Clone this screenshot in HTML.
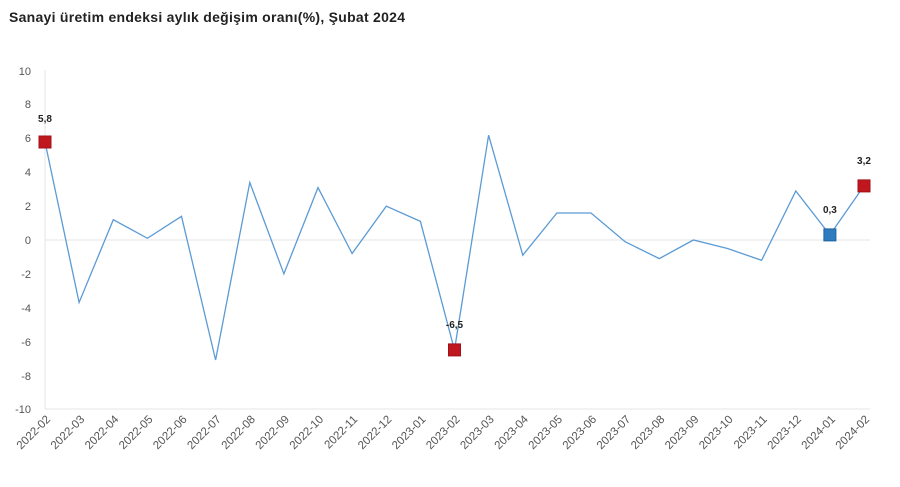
<!DOCTYPE html>
<html><head><meta charset="utf-8"><style>
html,body{margin:0;padding:0;background:#fff;width:900px;height:487px;overflow:hidden}
svg{font-family:"Liberation Sans","DejaVu Sans",sans-serif}
</style></head><body>
<svg width="900" height="487" viewBox="0 0 900 487">
<text x="9" y="22" font-size="14" font-weight="bold" fill="#222" textLength="396">Sanayi üretim endeksi aylık değişim oranı(%), Şubat 2024</text>
<line x1="45" y1="70" x2="45" y2="409" stroke="#e6e6e6"/>
<line x1="45" y1="240" x2="870" y2="240" stroke="#e6e6e6"/>
<line x1="45" y1="409" x2="870" y2="409" stroke="#e6e6e6"/>
<g font-size="11" fill="#555" text-anchor="end">
<text x="31" y="75">10</text><text x="31" y="108">8</text><text x="31" y="142">6</text><text x="31" y="176">4</text><text x="31" y="210">2</text><text x="31" y="244">0</text><text x="31" y="278">-2</text><text x="31" y="312">-4</text><text x="31" y="346">-6</text><text x="31" y="380">-8</text><text x="31" y="413">-10</text>
</g>
<polyline fill="none" stroke="#5b9bd5" stroke-width="1.3" points="45,142 79.1,302.5 113.3,219.7 147.4,238.3 181.5,216.3 215.6,360 249.8,182.5 283.9,273.8 318,187.6 352.1,253.5 386.3,206.2 420.4,221.4 454.5,349.9 488.6,135.2 522.8,255.2 556.9,213 591,213 625.1,241.7 659.3,258.6 693.4,240 727.5,248.5 761.6,260.3 795.8,191 829.9,234.9 864,185.9"/>
<rect x="39" y="136" width="12" height="12" fill="#c0171f" stroke="#a01018"/>
<rect x="448.5" y="343.9" width="12" height="12" fill="#c0171f" stroke="#a01018"/>
<rect x="858" y="179.9" width="12" height="12" fill="#c0171f" stroke="#a01018"/>
<rect x="823.9" y="228.9" width="12" height="12" fill="#2e7bc0" stroke="#1f64a0"/>
<g font-size="10" font-weight="bold" fill="#222" text-anchor="middle">
<text x="45" y="122">5,8</text><text x="454.5" y="328">-6,5</text><text x="829.9" y="213">0,3</text><text x="864" y="164">3,2</text>
</g>
<g font-size="11.5" fill="#555" text-anchor="end">
<text transform="translate(51,420) rotate(-45)">2022-02</text>
<text transform="translate(85.1,420) rotate(-45)">2022-03</text>
<text transform="translate(119.3,420) rotate(-45)">2022-04</text>
<text transform="translate(153.4,420) rotate(-45)">2022-05</text>
<text transform="translate(187.5,420) rotate(-45)">2022-06</text>
<text transform="translate(221.6,420) rotate(-45)">2022-07</text>
<text transform="translate(255.8,420) rotate(-45)">2022-08</text>
<text transform="translate(289.9,420) rotate(-45)">2022-09</text>
<text transform="translate(324,420) rotate(-45)">2022-10</text>
<text transform="translate(358.1,420) rotate(-45)">2022-11</text>
<text transform="translate(392.3,420) rotate(-45)">2022-12</text>
<text transform="translate(426.4,420) rotate(-45)">2023-01</text>
<text transform="translate(460.5,420) rotate(-45)">2023-02</text>
<text transform="translate(494.6,420) rotate(-45)">2023-03</text>
<text transform="translate(528.8,420) rotate(-45)">2023-04</text>
<text transform="translate(562.9,420) rotate(-45)">2023-05</text>
<text transform="translate(597,420) rotate(-45)">2023-06</text>
<text transform="translate(631.1,420) rotate(-45)">2023-07</text>
<text transform="translate(665.3,420) rotate(-45)">2023-08</text>
<text transform="translate(699.4,420) rotate(-45)">2023-09</text>
<text transform="translate(733.5,420) rotate(-45)">2023-10</text>
<text transform="translate(767.6,420) rotate(-45)">2023-11</text>
<text transform="translate(801.8,420) rotate(-45)">2023-12</text>
<text transform="translate(835.9,420) rotate(-45)">2024-01</text>
<text transform="translate(870,420) rotate(-45)">2024-02</text>
</g>
</svg>
</body></html>
